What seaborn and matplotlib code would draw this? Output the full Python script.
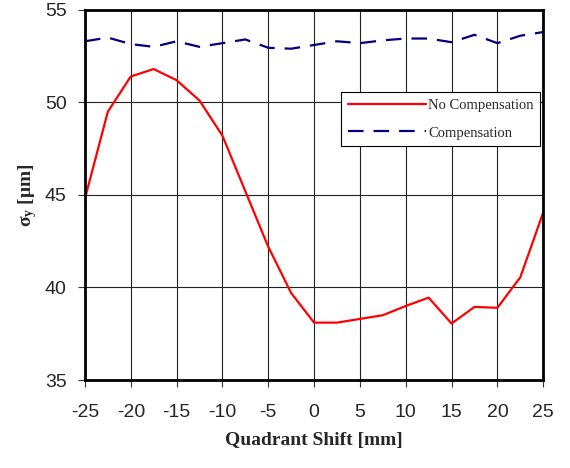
import numpy as np
import pandas as pd
import matplotlib
matplotlib.use('Agg')
import matplotlib.pyplot as plt
import seaborn as sns

# quadrant shift positions [mm]
shift = [-25, -22.5, -20, -17.5, -15, -12.5, -10, -7.5, -5, -2.5, 0,
         2.5, 5, 7.5, 10, 12.5, 15, 17.5, 20, 22.5, 25]

# sigma_y [um]
no_comp = [44.8, 49.5, 51.4, 51.8, 51.2, 50.1, 48.2, 45.2, 42.2, 39.7, 38.1,
           38.1, 38.3, 38.5, 39.0, 39.45, 38.05, 38.95, 38.9, 40.55, 44.05]
comp = [53.3, 53.5, 53.15, 53.0, 53.3, 53.0, 53.2, 53.4, 52.95, 52.9, 53.1,
        53.3, 53.2, 53.35, 53.45, 53.45, 53.25, 53.65, 53.2, 53.6, 53.8]

df = pd.DataFrame({
    'shift': shift * 2,
    'sigma': no_comp + comp,
    'case': ['No Compensation'] * len(shift) + ['Compensation'] * len(shift),
})

sns.set_style('ticks')
plt.rcParams['font.family'] = ['Liberation Sans', 'DejaVu Sans']
plt.rcParams['axes.unicode_minus'] = False
plt.rcParams['mathtext.fontset'] = 'custom'
plt.rcParams['mathtext.rm'] = 'Liberation Serif:bold'
plt.rcParams['mathtext.it'] = 'Liberation Serif:bold'

fig = plt.figure(figsize=(5.7, 4.68), dpi=100)
ax = fig.add_axes([0.149, 0.188, 0.804, 0.791])

sns.lineplot(data=df, x='shift', y='sigma', hue='case', style='case',
             palette={'No Compensation': '#ff0000', 'Compensation': '#000080'},
             dashes={'No Compensation': '', 'Compensation': (7, 4.5)},
             linewidth=1.6, ax=ax)

ax.set_xlim(-25, 25)
ax.set_ylim(35, 55)
ax.set_xticks(np.arange(-25, 26, 5))
ax.set_yticks(np.arange(35, 56, 5))
ax.grid(True, color='#222222', linewidth=0.8)
for s in ax.spines.values():
    s.set_linewidth(2)
    s.set_color('black')
ax.tick_params(axis='both', direction='out', length=5, width=0.8,
               color='#333333', labelsize=14)
ax.tick_params(axis='x', pad=12)
ax.tick_params(axis='y', pad=8)

ax.set_xlabel('Quadrant Shift [mm]', family='Liberation Serif',
              fontweight='bold', fontsize=14, labelpad=8)
ax.set_ylabel('σ$_{\\mathrm{y}}$ [μm]', family=['Liberation Serif', 'DejaVu Sans'],
              fontweight='bold', fontsize=14, labelpad=4)

leg = ax.legend(loc='upper left', bbox_to_anchor=(0.559, 0.778),
                prop={'family': 'Liberation Serif', 'size': 10.5},
                frameon=True, fancybox=False, framealpha=1,
                edgecolor='black', handlelength=5.4, handletextpad=0.1,
                borderpad=0.45, labelspacing=1.0, borderaxespad=0)
leg.get_frame().set_linewidth(0.8)

fig.savefig('out.png', dpi=100)
